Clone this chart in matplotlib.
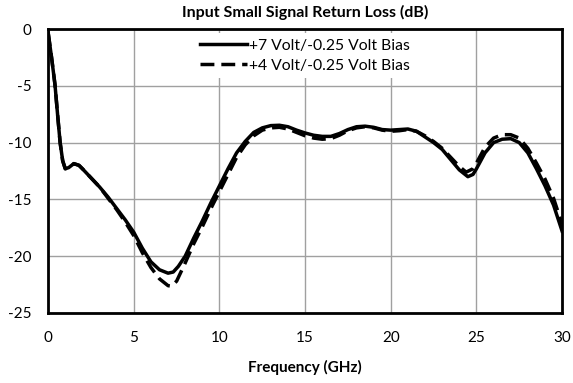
import numpy as np
import matplotlib.pyplot as plt

plt.rcParams['font.family'] = ['Lato', 'DejaVu Sans']
plt.rcParams['axes.unicode_minus'] = False

# Frequency (GHz) and return loss (dB)
freq_7v = [0, 0.2, 0.4, 0.55, 0.7, 0.85, 1.0, 1.2, 1.5, 1.8, 2.0, 2.5, 3.0, 3.5, 4.0,
           4.5, 5.0, 5.5, 6.0, 6.5, 7.0, 7.3, 7.6, 8.0, 8.5, 9.0, 9.5, 10.0, 10.5,
           11.0, 11.5, 12.0, 12.5, 13.0, 13.5, 14.0, 14.5, 15.0, 15.5, 16.0, 16.5,
           17.0, 17.5, 18.0, 18.5, 19.0, 19.5, 20.0, 20.5, 21.0, 21.5, 22.0, 22.5,
           23.0, 23.5, 24.0, 24.5, 24.8, 25.0, 25.5, 26.0, 26.5, 27.0, 27.5, 28.0,
           28.5, 29.0, 29.5, 30.0]
rl_7v = [-0.3, -2.5, -4.9, -7.5, -10.0, -11.6, -12.3, -12.2, -11.85, -12.0, -12.3,
         -13.1, -13.9, -14.8, -15.8, -16.8, -17.9, -19.3, -20.5, -21.2, -21.5, -21.4,
         -20.9, -20.0, -18.4, -16.9, -15.3, -13.8, -12.3, -10.9, -9.9, -9.1, -8.7,
         -8.5, -8.47, -8.6, -8.9, -9.15, -9.35, -9.45, -9.45, -9.2, -8.85, -8.6,
         -8.55, -8.65, -8.85, -8.9, -8.85, -8.8, -9.0, -9.5, -10.0, -10.6, -11.5,
         -12.4, -13.0, -12.8, -12.3, -10.9, -10.0, -9.7, -9.65, -10.0, -10.9,
         -12.3, -13.8, -15.5, -17.8]

freq_4v = [0, 0.2, 0.4, 0.55, 0.7, 0.85, 1.0, 1.2, 1.5, 1.8, 2.0, 2.5, 3.0, 3.5, 4.0,
           4.5, 5.0, 5.5, 6.0, 6.5, 7.0, 7.2, 7.5, 8.0, 8.5, 9.0, 9.5, 10.0, 10.5,
           11.0, 11.5, 12.0, 12.5, 13.0, 13.5, 14.0, 14.5, 15.0, 15.5, 16.0, 16.5,
           17.0, 17.5, 18.0, 18.5, 19.0, 19.5, 20.0, 20.5, 21.0, 21.5, 22.0, 22.5,
           23.0, 23.5, 24.0, 24.4, 24.8, 25.0, 25.5, 26.0, 26.5, 27.0, 27.5, 28.0,
           28.5, 29.0, 29.5, 30.0]
rl_4v = [-0.3, -2.5, -4.9, -7.5, -10.0, -11.6, -12.3, -12.2, -11.85, -12.0, -12.3,
         -13.1, -13.9, -14.9, -15.9, -17.0, -18.2, -19.7, -21.0, -22.0, -22.6, -22.65,
         -22.2, -20.6, -18.9, -17.4, -15.8, -14.3, -12.8, -11.3, -10.2, -9.4, -8.9,
         -8.7, -8.65, -8.8, -9.1, -9.4, -9.6, -9.7, -9.65, -9.35, -8.95, -8.7,
         -8.6, -8.7, -8.9, -9.0, -8.95, -8.85, -9.0, -9.4, -9.9, -10.5, -11.3,
         -12.1, -12.6, -12.3, -11.8, -10.4, -9.6, -9.3, -9.3, -9.6, -10.5,
         -11.8, -13.2, -14.9, -17.2]

x_ticks = [0, 5, 10, 15, 20, 25, 30]
y_ticks = [0, -5, -10, -15, -20, -25]

fig = plt.figure(figsize=(5.73, 3.83), dpi=100)
ax = fig.add_axes([0.084, 0.183, 0.897, 0.741])

ax.plot(freq_7v, rl_7v, color='black', lw=2.5, label='+7 Volt/-0.25 Volt Bias')
ax.plot(freq_4v, rl_4v, color='black', lw=2.5, linestyle=(0, (4, 2)),
        label='+4 Volt/-0.25 Volt Bias')

ax.set_xlim(0, 30)
ax.set_ylim(-25, 0)
ax.set_xticks(x_ticks)
ax.set_yticks(y_ticks)
ax.tick_params(length=0, labelsize=11)
ax.tick_params(axis='x', pad=13)
ax.tick_params(axis='y', pad=12)
ax.grid(True, color='#a0a0a0', lw=1)
ax.set_axisbelow(True)
for s in ax.spines.values():
    s.set_linewidth(2)
    s.set_color('black')

ax.set_title('Input Small Signal Return Loss (dB)', fontsize=11.5, fontweight='bold', pad=9)
ax.set_xlabel('Frequency (GHz)', fontsize=11, fontweight='bold', labelpad=11)

leg = ax.legend(loc='upper center', bbox_to_anchor=(0.5, 1.0), fontsize=11.3,
                frameon=True, framealpha=1, edgecolor='none', fancybox=False,
                handlelength=3.0, handletextpad=0.1, labelspacing=0.4,
                borderpad=0.35, borderaxespad=0.25)

fig.savefig('out.png', dpi=100)
